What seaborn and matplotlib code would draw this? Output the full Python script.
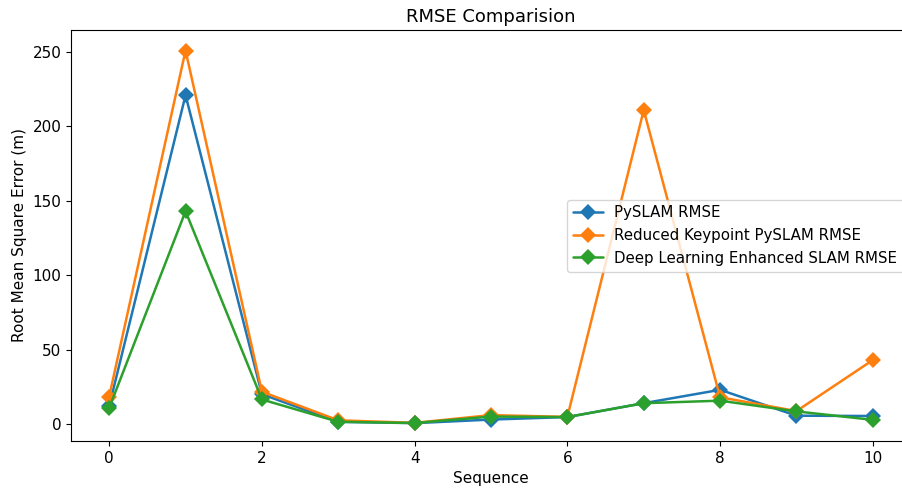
import matplotlib
matplotlib.use("Agg")
import matplotlib.pyplot as plt
import seaborn as sns
import pandas as pd

sequences = [0, 1, 2, 3, 4, 5, 6, 7, 8, 9, 10]
pyslam_rmse = [12, 221, 20, 1.5, 0.6, 3, 4.7, 14, 23, 5.6, 5.4]
reduced_rmse = [18.5, 251, 21.7, 2.5, 0.8, 6, 4.8, 211, 18, 8.7, 43]
deep_rmse = [10.8, 143, 16.5, 1.5, 0.7, 5, 4.7, 14, 15.7, 8.5, 2.8]
series_names = ["PySLAM RMSE", "Reduced Keypoint PySLAM RMSE", "Deep Learning Enhanced SLAM RMSE"]

df = pd.DataFrame({
    "Sequence": sequences * 3,
    "RMSE": pyslam_rmse + reduced_rmse + deep_rmse,
    "Series": [series_names[0]] * 11 + [series_names[1]] * 11 + [series_names[2]] * 11,
})

sns.set_style("ticks")
plt.rcParams["font.family"] = ["DejaVu Sans"]
for k in ["text.color", "axes.labelcolor", "xtick.color", "ytick.color", "axes.edgecolor"]:
    plt.rcParams[k] = "black"
fig = plt.figure(figsize=(9.02, 4.92), dpi=100)
ax = fig.add_axes([71 / 902, 1 - 441 / 492, (911 - 71) / 902, (441 - 30) / 492])
sns.lineplot(data=df, x="Sequence", y="RMSE", hue="Series", marker="D", markersize=8,
             markeredgewidth=0, palette=["#1f77b4", "#ff7f0e", "#2ca02c"], ax=ax, linewidth=1.8)
ax.set_xlim(-0.5, 10.5)
ax.set_ylim(-11.4, 264.8)
ax.set_xticks([0, 2, 4, 6, 8, 10])
ax.set_yticks([0, 50, 100, 150, 200, 250])
ax.set_xlabel("Sequence", fontsize=11)
ax.set_ylabel("Root Mean Square Error (m)", fontsize=11)
ax.set_title("RMSE Comparision", fontsize=13)
ax.tick_params(labelsize=11)
leg = ax.legend(loc="center right", fontsize=10.8, title=None, bbox_to_anchor=(1.0, 0.5))
for s in ax.spines.values():
    s.set_color("black")
fig.savefig("out.png", dpi=100)
